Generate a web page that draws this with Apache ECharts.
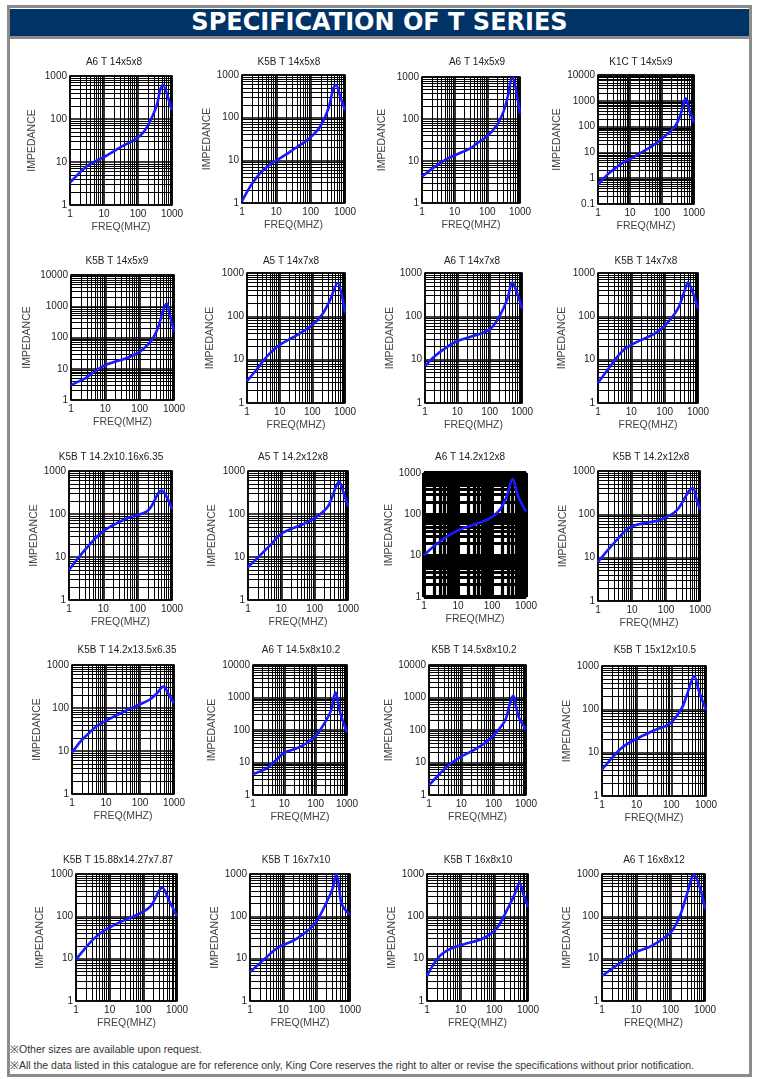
<!DOCTYPE html>
<html>
<head>
<meta charset="utf-8">
<script src="https://cdn.jsdelivr.net/npm/echarts@6/dist/echarts.min.js"></script>
<style>
html,body{margin:0;padding:0;background:#fff;}
#frame{position:absolute;left:7px;top:5px;width:745px;height:1072px;box-sizing:border-box;border:3px solid #8c8c8c;}
#banner{position:absolute;left:10px;top:9px;width:739px;height:27px;background:#003366;color:#fff;
  font-family:"DejaVu Sans",sans-serif;font-weight:bold;font-size:24px;line-height:27px;text-align:center;letter-spacing:0px;}
#bline{position:absolute;left:10px;top:36px;width:739px;height:3px;background:#8c8c8c;}
.foot{position:absolute;left:10px;font-family:"Liberation Sans",Arial,sans-serif;font-size:10.5px;color:#333;white-space:nowrap;}
#chart{position:absolute;left:0;top:0;width:758px;height:1079px;}
</style>
</head>
<body>
<div id="frame"></div>
<div id="banner">SPECIFICATION OF T SERIES</div>
<div id="bline"></div>
<div class="foot" style="top:1042px;">※Other sizes are available upon request.</div>
<div class="foot" style="top:1058px;">※All the data listed in this catalogue are for reference only, King Core reserves the right to alter or revise the specifications without prior notification.</div>
<div id="chart"></div>
<script>
// ---------------- data ----------------
const titles = [
  "A6 T 14x5x8", "K5B T 14x5x8", "A6 T 14x5x9", "K1C T 14x5x9",
  "K5B T 14x5x9", "A5 T 14x7x8", "A6 T 14x7x8", "K5B T 14x7x8",
  "K5B T 14.2x10.16x6.35", "A5 T 14.2x12x8", "A6 T 14.2x12x8", "K5B T 14.2x12x8",
  "K5B T 14.2x13.5x6.35", "A6 T 14.5x8x10.2", "K5B T 14.5x8x10.2", "K5B T 15x12x10.5",
  "K5B T 15.88x14.27x7.87", "K5B T 16x7x10", "K5B T 16x8x10", "A6 T 16x8x12"
];
const xMinVal = 1, xMaxVal = 1000;
const yMinVals = [1,1,1,0.1, 1,1,1,1, 1,1,1,1, 1,1,1,1, 1,1,1,1];
const yMaxVals = [1000,1000,1000,10000, 10000,1000,1000,1000, 1000,1000,1000,1000, 1000,10000,10000,1000, 1000,1000,1000,1000];
const xAxisName = "FREQ(MHZ)";
const yAxisName = "IMPEDANCE";

const f01 = [1, 2, 3, 5, 10, 20, 30, 50, 100, 160, 250, 360, 450, 540, 700, 850, 1000];
const z01 = [3.3, 5.8, 7.8, 10, 13, 18, 22, 27, 37, 55, 104, 212, 480, 620, 395, 240, 160];
const f02 = [1, 1.5, 2, 3.4, 6, 10, 20, 30, 50, 100, 190, 330, 460, 550, 720, 1000];
const z02 = [1.1, 2.0, 2.9, 5.0, 7.6, 10, 14, 17.5, 23, 35, 62, 166, 490, 590, 315, 151];
const f03 = [1, 2, 3, 5, 9, 30, 50, 96, 195, 310, 420, 500, 600, 760, 1000];
const z03 = [4.3, 6.5, 8.1, 10.5, 13.2, 20, 27, 38, 71, 148, 335, 700, 960, 480, 135];
const f04 = [1, 2, 3.7, 6, 11, 20, 33, 60, 110, 250, 360, 460, 545, 710, 1000];
const z04 = [0.55, 1.4, 2.6, 4, 5.9, 9, 13, 21, 38, 100, 240, 690, 1250, 440, 142];
const f05 = [1, 2, 2.9, 5, 10, 20, 34, 60, 102, 225, 350, 470, 610, 760, 1000];
const z05 = [3.0, 4.3, 5.3, 8.3, 13, 17, 20, 26, 35, 83, 220, 670, 1240, 525, 153];
const f06 = [1, 2, 3, 5, 10, 30, 100, 200, 350, 600, 800, 1000];
const z06 = [3.2, 6, 9, 14, 22, 35, 63, 110, 240, 590, 300, 120];
const f07 = [1, 2, 5, 10, 30, 100, 200, 350, 500, 700, 1000];
const z07 = [7.1, 12, 20, 27, 35, 50, 100, 250, 600, 350, 150];
const f08 = [1, 2, 5, 10, 50, 100, 250, 400, 500, 700, 1000];
const z08 = [2.9, 6, 15, 22, 40, 60, 150, 400, 600, 350, 150];
const f09 = [1, 3, 10, 50, 200, 500, 700, 1000];
const z09 = [5, 15, 40, 80, 120, 350, 250, 130];
const f10 = [1, 5, 10, 50, 100, 250, 550, 750, 1000];
const z10 = [5.8, 20, 35, 60, 80, 150, 550, 300, 150];
const f11 = [1, 2.3, 5.7, 14, 35, 87, 170, 270, 405, 590, 1000];
const z11 = [10.3, 19, 32, 46, 59, 80, 128, 270, 710, 270, 117];
const f12 = [1, 3, 8.7, 30, 66, 200, 620, 800, 1000];
const z12 = [8, 22, 50, 65, 74, 120, 400, 220, 126];
const f13 = [1, 1.76, 2.75, 5.4, 10.6, 33, 100, 200, 310, 490, 680, 1000];
const z13 = [9.1, 16.5, 23.6, 38, 52, 82, 122, 160, 218, 314, 218, 128];
const f14 = [1, 2.7, 5.5, 10, 24, 50, 105, 220, 315, 425, 615, 1000];
const z14 = [4.4, 6.6, 12, 20, 27, 39, 70, 204, 415, 1410, 324, 83];
const f15 = [1, 2.2, 4.5, 9.1, 24, 62, 126, 229, 310, 395, 590, 1000];
const z15 = [2.0, 4.6, 9, 14.5, 24, 44, 89, 204, 590, 1120, 257, 105];
const f16 = [1, 2.1, 4.1, 10, 30, 93, 200, 280, 460, 610, 1000];
const z16 = [4.1, 8.1, 13.8, 21, 32, 48, 106, 214, 590, 280, 96];
const f17 = [1, 1.76, 3.3, 7.2, 22, 76, 165, 365, 590, 1000];
const z17 = [9.6, 16.6, 29, 47, 75, 116, 175, 475, 230, 100];
const f18 = [1, 2.6, 6.7, 24, 85, 186, 300, 390, 480, 565, 1000];
const z18 = [4.8, 9.5, 18, 29, 65, 193, 450, 1000, 450, 193, 108];
const f19 = [1, 2.2, 4.9, 12.6, 45, 115, 250, 400, 560, 720, 1000];
const z19 = [3.9, 10.8, 17, 22, 30, 51, 152, 330, 620, 345, 166];
const f20 = [1, 3, 9.2, 28, 98, 186, 300, 480, 710, 1000];
const z20 = [3.9, 7.4, 14, 20, 41, 103, 340, 960, 480, 148];

const freqs = [f01,f02,f03,f04,f05,f06,f07,f08,f09,f10,f11,f12,f13,f14,f15,f16,f17,f18,f19,f20];
const imps  = [z01,z02,z03,z04,z05,z06,z07,z08,z09,z10,z11,z12,z13,z14,z15,z16,z17,z18,z19,z20];

// ---------------- layout (pixels) ----------------
const boxes = [
  [70,76,172,205],[242,75,345,203],[422,77,520,203],[598,75,694,204],
  [71,275,174,400],[247,273,345,403],[425,273,522,403],[598,273,698,403],
  [69,471,172,600],[248,471,348,600],[424,473,526,597],[598,471,700,601],
  [72,665,174,794],[253,665,347,795],[429,665,526,795],[602,666,706,796],
  [76,874,177,1001],[250,874,350,1001],[427,874,528,1001],[602,874,705,1001]
];
const titlePos = [
  [114,62],[289,62],[477,62],[641,62],
  [117,261],[291,261],[472,261],[646,261],
  [111,457],[293,457],[470,457],[651,457],
  [127,650],[301,650],[474,650],[655,650],
  [118,860],[296,860],[478,860],[654,860]
];
const nameDist = [38,35,40,41, 44,37,35,36, 33,36,34,31, 35,41,39,34, 36,35,35,31];

function minorVals(lo, hi){
  const out = [];
  const e0 = Math.round(Math.log10(lo)), e1 = Math.round(Math.log10(hi));
  for (let e = e0; e < e1; e++){
    const b = Math.pow(10, e);
    for (let k = 2; k <= 9; k++) out.push(+(k*b).toPrecision(3));
  }
  return out;
}
const fmt = v => String(+Number(v).toPrecision(6));
const FONT = '"Liberation Sans", Arial, sans-serif';

const grids = [], xAxes = [], yAxes = [], series = [], graphics = [];
for (let i = 0; i < 20; i++){
  const [l,t,r,b] = boxes[i];
  const thick = (i === 10);
  const minorW = thick ? 3.2 : 1;
  const majorW = thick ? 4 : 1.6;
  grids.push({left:l, top:t, width:r-l, height:b-t, show:true, borderColor:'#000', borderWidth:1.5, backgroundColor:'transparent'});
  xAxes.push({
    type:'log', logBase:10, gridIndex:i, min:xMinVal, max:xMaxVal,
    name:xAxisName, nameLocation:'middle', nameGap:17,
    nameTextStyle:{fontFamily:FONT, fontSize:10.5, color:'#444'},
    axisLine:{show:false}, axisTick:{show:false},
    axisLabel:{margin:4, fontFamily:FONT, fontSize:10, color:'#222', formatter:fmt},
    splitLine:{show:true, lineStyle:{color:'#000', width:majorW}}
  });
  yAxes.push({
    type:'log', logBase:10, gridIndex:i, min:yMinVals[i], max:yMaxVals[i],
    name:yAxisName, nameLocation:'middle', nameGap:nameDist[i]-6,
    nameTextStyle:{fontFamily:FONT, fontSize:10.5, color:'#444'},
    axisLine:{show:false}, axisTick:{show:false},
    axisLabel:{margin:3, fontFamily:FONT, fontSize:10, color:'#222', formatter:fmt},
    splitLine:{show:true, lineStyle:{color:'#000', width:majorW}}
  });
  const ml = [];
  minorVals(xMinVal, xMaxVal).forEach(v => ml.push({xAxis:v}));
  minorVals(yMinVals[i], yMaxVals[i]).forEach(v => ml.push({yAxis:v}));
  series.push({
    type:'line', xAxisIndex:i, yAxisIndex:i, z:3,
    data: freqs[i].map((f,k) => [f, imps[i][k]]),
    showSymbol:false, smooth:0.35, animation:false, silent:true,
    lineStyle:{color:'#1a1aff', width:2.6},
    markLine:{silent:true, z:1, animation:false, symbol:['none','none'], label:{show:false},
      lineStyle:{color:'#000', width:minorW, type:'solid'}, emphasis:{disabled:true}, data:ml}
  });
  graphics.push({type:'text', x:titlePos[i][0], y:titlePos[i][1], silent:true,
    style:{text:titles[i], align:'center', verticalAlign:'middle', font:'10px ' + FONT, fill:'#222'}});
}

const chart = echarts.init(document.getElementById('chart'), null, {renderer:'canvas'});
chart.setOption({
  animation:false,
  backgroundColor:'transparent',
  grid:grids, xAxis:xAxes, yAxis:yAxes, series:series, graphic:graphics
});
</script>
</body>
</html>
